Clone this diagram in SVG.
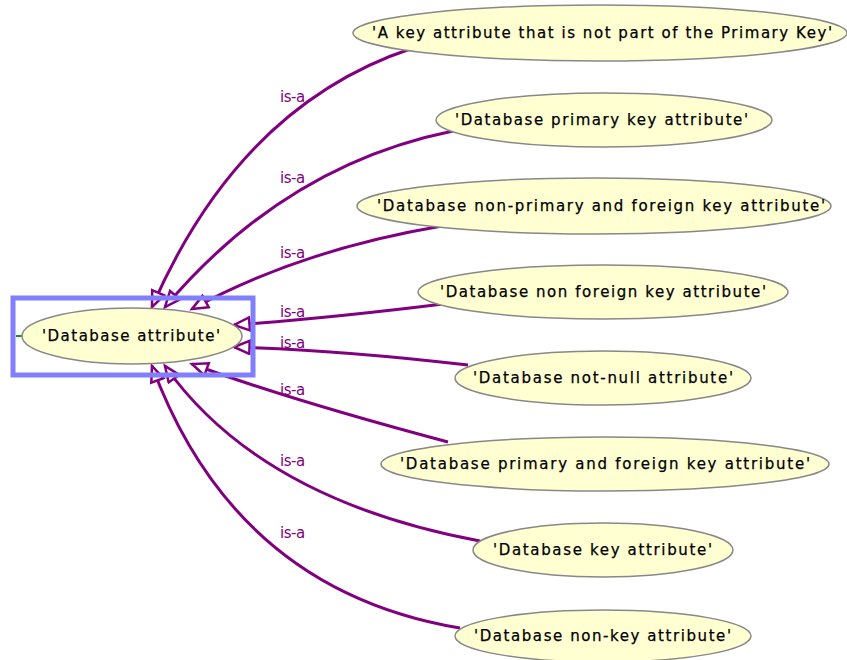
<svg xmlns="http://www.w3.org/2000/svg" width="847" height="660" viewBox="0 0 847 660">
<style>
.node ellipse{fill:#ffffd2;stroke:#888888;stroke-width:1.5}
.node text{font-family:"DejaVu Sans",Verdana,sans-serif;font-size:15px;fill:#000000;text-anchor:start;stroke:#000000;stroke-width:0.25}
.edge{fill:none;stroke:#800080;stroke-width:3;marker-end:url(#tri)}
.lbl{font-family:"DejaVu Sans",Verdana,sans-serif;font-size:15px;fill:#800080;letter-spacing:-0.5px}
</style>
<defs>
<marker id="tri" markerUnits="userSpaceOnUse" markerWidth="20" markerHeight="18" refX="17" refY="8" orient="auto" viewBox="0 0 20 18">
<path d="M1.5,1.5 L17,8 L1.5,14.5 z" fill="#ffffff" stroke="#800080" stroke-width="2.5" stroke-linejoin="miter"/>
</marker>
</defs>
<rect width="847" height="660" fill="#ffffff"/>
<g id="edges">
<path class="edge" d="M413,48 Q240,105 152,307"/>
<path class="edge" d="M453,131 Q285,165 165,307"/>
<path class="edge" d="M442,226 Q300,250 192,309"/>
<path class="edge" d="M443,304 Q330,318 234,325"/>
<path class="edge" d="M468,365 Q340,350 234,347"/>
<path class="edge" d="M448,442 Q290,400 192,364"/>
<path class="edge" d="M480,541 Q260,500 165,366"/>
<path class="edge" d="M460,628 Q235,590 152,366"/>
</g>
<g id="edge-labels">
<text class="lbl" x="280" y="102">is-a</text>
<text class="lbl" x="280" y="183">is-a</text>
<text class="lbl" x="280" y="258">is-a</text>
<text class="lbl" x="280" y="317">is-a</text>
<text class="lbl" x="280" y="348">is-a</text>
<text class="lbl" x="280" y="395">is-a</text>
<text class="lbl" x="280" y="466">is-a</text>
<text class="lbl" x="280" y="538">is-a</text>
</g>
<g id="n0" class="node">
<line x1="16" y1="336" x2="22" y2="336" stroke="#228b22" stroke-width="2"/>
<ellipse cx="132" cy="336" rx="110" ry="28"/>
<text x="42" y="341" textLength="178" lengthAdjust="spacing">'Database attribute'</text>
</g>
<rect id="selection" x="13" y="298" width="240" height="77" fill="none" stroke="#8080ff" stroke-width="5"/>
<g id="n1" class="node">
<ellipse cx="600" cy="33" rx="247" ry="28"/>
<text x="372" y="38" textLength="460" lengthAdjust="spacing">'A key attribute that is not part of the Primary Key'</text>
</g>
<g id="n2" class="node">
<ellipse cx="604" cy="120" rx="168" ry="27"/>
<text x="455" y="125" textLength="293" lengthAdjust="spacing">'Database primary key attribute'</text>
</g>
<g id="n3" class="node">
<ellipse cx="594" cy="206" rx="237" ry="28"/>
<text x="377" y="211" textLength="448" lengthAdjust="spacing">'Database non-primary and foreign key attribute'</text>
</g>
<g id="n4" class="node">
<ellipse cx="603" cy="292" rx="185" ry="27"/>
<text x="440" y="297" textLength="326" lengthAdjust="spacing">'Database non foreign key attribute'</text>
</g>
<g id="n5" class="node">
<ellipse cx="603" cy="378" rx="148" ry="27"/>
<text x="473" y="383" textLength="260" lengthAdjust="spacing">'Database not-null attribute'</text>
</g>
<g id="n6" class="node">
<ellipse cx="605" cy="464" rx="224" ry="27"/>
<text x="400" y="469" textLength="410" lengthAdjust="spacing">'Database primary and foreign key attribute'</text>
</g>
<g id="n7" class="node">
<ellipse cx="603" cy="550" rx="130" ry="27"/>
<text x="493" y="555" textLength="219" lengthAdjust="spacing">'Database key attribute'</text>
</g>
<g id="n8" class="node">
<ellipse cx="603" cy="636" rx="148" ry="26"/>
<text x="474" y="641" textLength="257" lengthAdjust="spacing">'Database non-key attribute'</text>
</g>
</svg>
